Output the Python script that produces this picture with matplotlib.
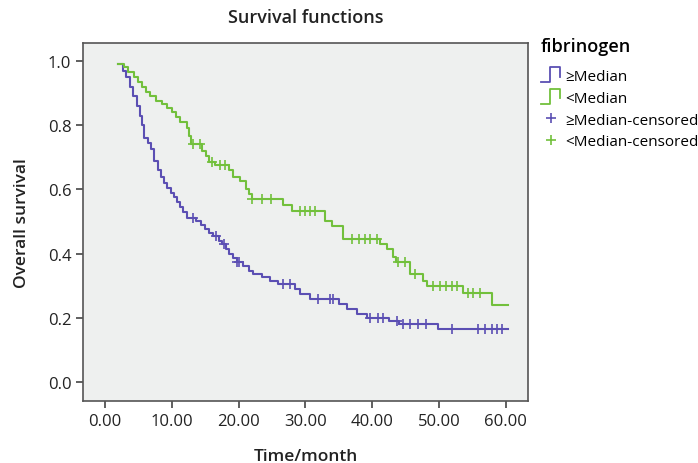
import numpy as np
import matplotlib.pyplot as plt
from matplotlib.lines import Line2D
from matplotlib.legend_handler import HandlerBase

plt.rcParams['font.family'] = ['Open Sans', 'DejaVu Sans']

# >= Median group (step curve)
t_hi = [2.0, 2.7, 3.2, 3.8, 4.2, 4.8, 5.2, 5.6, 5.9, 6.4, 6.9, 7.4, 7.9, 8.3, 8.8, 9.3,
        9.8, 10.3, 10.8, 11.2, 11.6, 12.3, 13.6, 14.4, 15.0, 15.6, 16.2, 17.0, 17.5,
        18.1, 18.6, 19.2, 19.7, 20.7, 21.5, 22.2, 23.5, 24.7, 25.9, 28.4, 29.2, 30.7,
        33.0, 35.0, 36.3, 37.7, 39.2, 42.5, 44.0, 49.9, 60.3]
s_hi = [0.99, 0.97, 0.95, 0.92, 0.89, 0.86, 0.83, 0.80, 0.76, 0.745, 0.725, 0.69, 0.66,
        0.64, 0.62, 0.605, 0.59, 0.575, 0.56, 0.545, 0.53, 0.51, 0.50, 0.49, 0.475, 0.465,
        0.455, 0.44, 0.43, 0.415, 0.40, 0.385, 0.375, 0.36, 0.345, 0.336, 0.327, 0.315,
        0.305, 0.29, 0.274, 0.259, 0.259, 0.243, 0.227, 0.212, 0.200, 0.19, 0.18, 0.165,
        0.165]
cens_hi = [13.2, 16.6, 17.8, 19.7, 20.0, 26.6, 27.7, 31.9, 33.7, 34.2, 39.7, 40.9, 41.6,
           43.7, 44.6, 45.7, 46.9, 48.0, 52.0, 55.8, 56.9, 57.9, 58.7, 59.4]

# < Median group (step curve)
t_lo = [2.0, 2.8, 3.5, 4.3, 4.9, 5.5, 6.2, 6.8, 7.6, 8.5, 9.3, 10.0, 10.6, 11.2, 12.2,
        12.5, 12.8, 14.5, 15.1, 15.5, 16.5, 18.6, 19.2, 20.2, 21.1, 21.6, 22.0, 26.6,
        28.0, 33.0, 34.0, 35.7, 41.2, 42.2, 43.1, 43.6, 45.7, 47.6, 48.2, 53.6, 58.0, 60.3]
s_lo = [0.99, 0.98, 0.965, 0.95, 0.935, 0.92, 0.905, 0.89, 0.875, 0.865, 0.855, 0.84,
        0.825, 0.81, 0.79, 0.765, 0.74, 0.72, 0.705, 0.685, 0.675, 0.66, 0.64, 0.625, 0.60,
        0.585, 0.57, 0.55, 0.534, 0.502, 0.487, 0.445, 0.43, 0.414, 0.39, 0.374, 0.336,
        0.316, 0.30, 0.277, 0.24, 0.24]
cens_lo = [13.2, 14.2, 16.0, 17.2, 18.0, 22.0, 23.5, 24.9, 29.2, 30.0, 30.7, 31.5, 37.0,
           38.0, 39.0, 39.7, 40.7, 43.9, 44.9, 46.4, 49.1, 50.2, 51.0, 52.0, 52.7, 54.3,
           55.1, 56.1]

labels = ['\u2265Median', '<Median', '\u2265Median-censored', '<Median-censored']
c_hi = '#5b4fb3'
c_lo = '#72c03c'


def surv_at(times, surv, pts):
    idx = np.searchsorted(times, pts, side='right') - 1
    return np.array(surv)[idx]


class StepHandler(HandlerBase):
    def create_artists(self, legend, orig, xd, yd, w, h, fs, trans):
        x = np.array([0, 0.45, 0.45, 0.9, 0.9]) * w - xd
        y = np.array([-0.2, -0.2, 1.2, 1.2, 0.3]) * h - yd
        ln = Line2D(x, y, color=orig.get_color(), lw=1.3, transform=trans)
        return [ln]


fig = plt.figure(figsize=(6.98, 4.64), dpi=100)
ax = fig.add_axes([0.119, 0.134, 0.637, 0.771])
ax.set_facecolor('#eef0ef')

l1, = ax.step(t_hi, s_hi, where='post', color=c_hi, lw=1.5)
l2, = ax.step(t_lo, s_lo, where='post', color=c_lo, lw=1.5)
m1, = ax.plot(cens_hi, surv_at(t_hi, s_hi, cens_hi), '+', color=c_hi, ms=7, mew=1.2)
m2, = ax.plot(cens_lo, surv_at(t_lo, s_lo, cens_lo), '+', color=c_lo, ms=7, mew=1.2)

ax.set_xlim(-3.3, 63.3)
ax.set_ylim(-0.059, 1.056)
ax.set_xticks(np.arange(0, 61, 10))
ax.set_xticklabels(['%.2f' % v for v in np.arange(0, 61, 10)])
ax.set_yticks(np.arange(0, 1.01, 0.2))
ax.set_yticklabels(['%.1f' % v for v in np.arange(0, 1.01, 0.2)])
ax.tick_params(labelsize=12, length=5, width=1.2, color='#444444', labelcolor='#222222')
for s in ax.spines.values():
    s.set_color('#555555')
    s.set_linewidth(1.2)

ax.set_xlabel('Time/month', fontsize=12.5, fontweight='semibold', color='#222222', labelpad=14)
ax.set_ylabel('Overall survival', fontsize=12.5, fontweight='semibold', color='#222222', labelpad=13)
ax.set_title('Survival functions', fontsize=13, fontweight='semibold', color='#222222', pad=15)

leg = fig.legend([l1, l2, m1, m2], labels, loc='upper left', bbox_to_anchor=(0.755, 0.948),
                 frameon=False, fontsize=11, title='fibrinogen',
                 title_fontproperties={'size': 13, 'weight': 'semibold'},
                 handler_map={l1: StepHandler(), l2: StepHandler()},
                 handlelength=1.4, handletextpad=0.2, labelspacing=0.45, alignment='left')
leg._legend_box.sep = 10

fig.savefig('out.png', dpi=100)
